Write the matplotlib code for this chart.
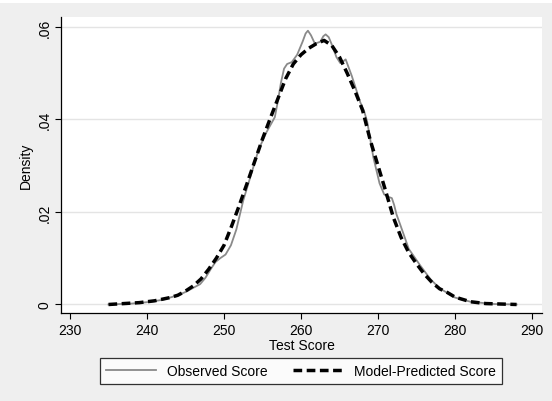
# Observed vs model-predicted test score density (Stata-like look)

import numpy as np
import matplotlib.pyplot as plt
from matplotlib.patches import Rectangle

plt.rc('font', family=['Liberation Sans', 'DejaVu Sans'], size=10)

# Observed score density
obs_x = [235, 238, 240, 242, 244, 245, 246, 246.9, 247.6, 248.3, 248.9, 249.5,
         250.2, 250.9, 251.6, 252.5, 253.5, 254.5, 255.5, 256.1, 256.6, 257.0,
         257.4, 257.8, 258.2, 258.8, 259.5, 260.2, 260.6, 260.9, 261.3, 261.8,
         262.5, 262.9, 263.2, 263.6, 264.0, 264.6, 265.1, 265.5, 265.8, 266.6,
         267.7, 268.2, 268.6, 269.4, 270.2, 270.8, 271.3, 271.8, 272.1, 272.4,
         272.9, 274.0, 275.5, 276.8, 278.0, 280.0, 282.0, 285.0, 288.0]
obs_y = [0.0000, 0.0002, 0.0005, 0.0010, 0.0020, 0.0027, 0.0036, 0.0044, 0.0058,
         0.0077, 0.0092, 0.0100, 0.0108, 0.0128, 0.0162, 0.0225, 0.0280, 0.0335,
         0.0372, 0.0390, 0.0405, 0.0440, 0.0480, 0.0510, 0.0520, 0.0524, 0.0540,
         0.0568, 0.0586, 0.0592, 0.0582, 0.0564, 0.0568, 0.0580, 0.0584, 0.0578,
         0.0562, 0.0535, 0.0522, 0.0526, 0.0530, 0.0494, 0.0437, 0.0418, 0.0395,
         0.0318, 0.0262, 0.0238, 0.0233, 0.0230, 0.0215, 0.0195, 0.0172, 0.0120,
         0.0084, 0.0055, 0.0035, 0.0015, 0.0006, 0.0001, 0.0000]

# Model-predicted score density
mod_x = [235, 237, 239, 241, 243, 244, 245, 246, 247, 248, 249, 250, 251, 252,
         253, 254, 255, 256, 257, 258, 259, 260, 261, 262, 263, 264, 265, 266,
         267, 268, 269, 270, 271, 272, 273, 274, 275, 276, 277, 278, 279, 280,
         282, 284, 286, 288]
mod_y = [0.0000, 0.0002, 0.0004, 0.0008, 0.0015, 0.0020, 0.0029, 0.0040, 0.0055,
         0.0076, 0.0100, 0.0128, 0.0170, 0.0215, 0.0262, 0.0310, 0.0358, 0.0402,
         0.0445, 0.0488, 0.0520, 0.0540, 0.0554, 0.0564, 0.0571, 0.0560, 0.0535,
         0.0500, 0.0462, 0.0420, 0.0355, 0.0300, 0.0245, 0.0188, 0.0145, 0.0112,
         0.0088, 0.0066, 0.0048, 0.0034, 0.0026, 0.0016, 0.0006, 0.0002, 0.0001,
         0.0000]

x_ticks = [230, 240, 250, 260, 270, 280, 290]
y_ticks = [0, 0.02, 0.04, 0.06]
y_labels = ['0', '.02', '.04', '.06']

fig = plt.figure(figsize=(5.52, 4.02), dpi=100, facecolor='#efefef')
# thin white strip along the top edge
fig.patches.append(Rectangle((0, 1 - 4 / 402), 1, 4 / 402, transform=fig.transFigure,
                             facecolor='white', edgecolor='none', zorder=0))

ax = fig.add_axes([61 / 552, 1 - 314 / 402, (542 - 61) / 552, (314 - 18) / 402])
ax.set_facecolor('white')

ax.plot(obs_x, obs_y, color='#8a8a8a', lw=1.3, label='Observed Score', zorder=3,
        solid_joinstyle='round')
ax.plot(mod_x, mod_y, color='black', lw=2.5, dashes=(2.5, 1.3),
        label='Model-Predicted Score', zorder=4)

ax.set_xlim(228.83, 291.3)
ax.set_ylim(-0.00184, 0.06216)
ax.set_xticks(x_ticks)
ax.set_yticks(y_ticks)
ax.set_yticklabels(y_labels, rotation=90, va='center')
ax.tick_params(direction='out', length=4, width=0.8, color='black', labelsize=10, pad=3)

ax.grid(axis='y', color='#e4e4e4', lw=1)
ax.set_axisbelow(True)
for s in ['top', 'right']:
    ax.spines[s].set_visible(False)
for s in ['left', 'bottom']:
    ax.spines[s].set_color('black')
    ax.spines[s].set_linewidth(0.9)

ax.set_xlabel('Test Score', fontsize=10, labelpad=1)
ax.set_ylabel('Density', fontsize=10, labelpad=3)

leg = fig.legend(loc='center', bbox_to_anchor=(301 / 552, 1 - 372 / 402), ncol=2,
                 frameon=True, fancybox=False, handlelength=3.6, columnspacing=1.8,
                 handletextpad=0.8, borderpad=0.45, fontsize=10)
leg.get_frame().set_edgecolor('black')
leg.get_frame().set_linewidth(0.9)
leg.get_frame().set_facecolor('white')

fig.savefig('out.png', dpi=100, facecolor=fig.get_facecolor())
